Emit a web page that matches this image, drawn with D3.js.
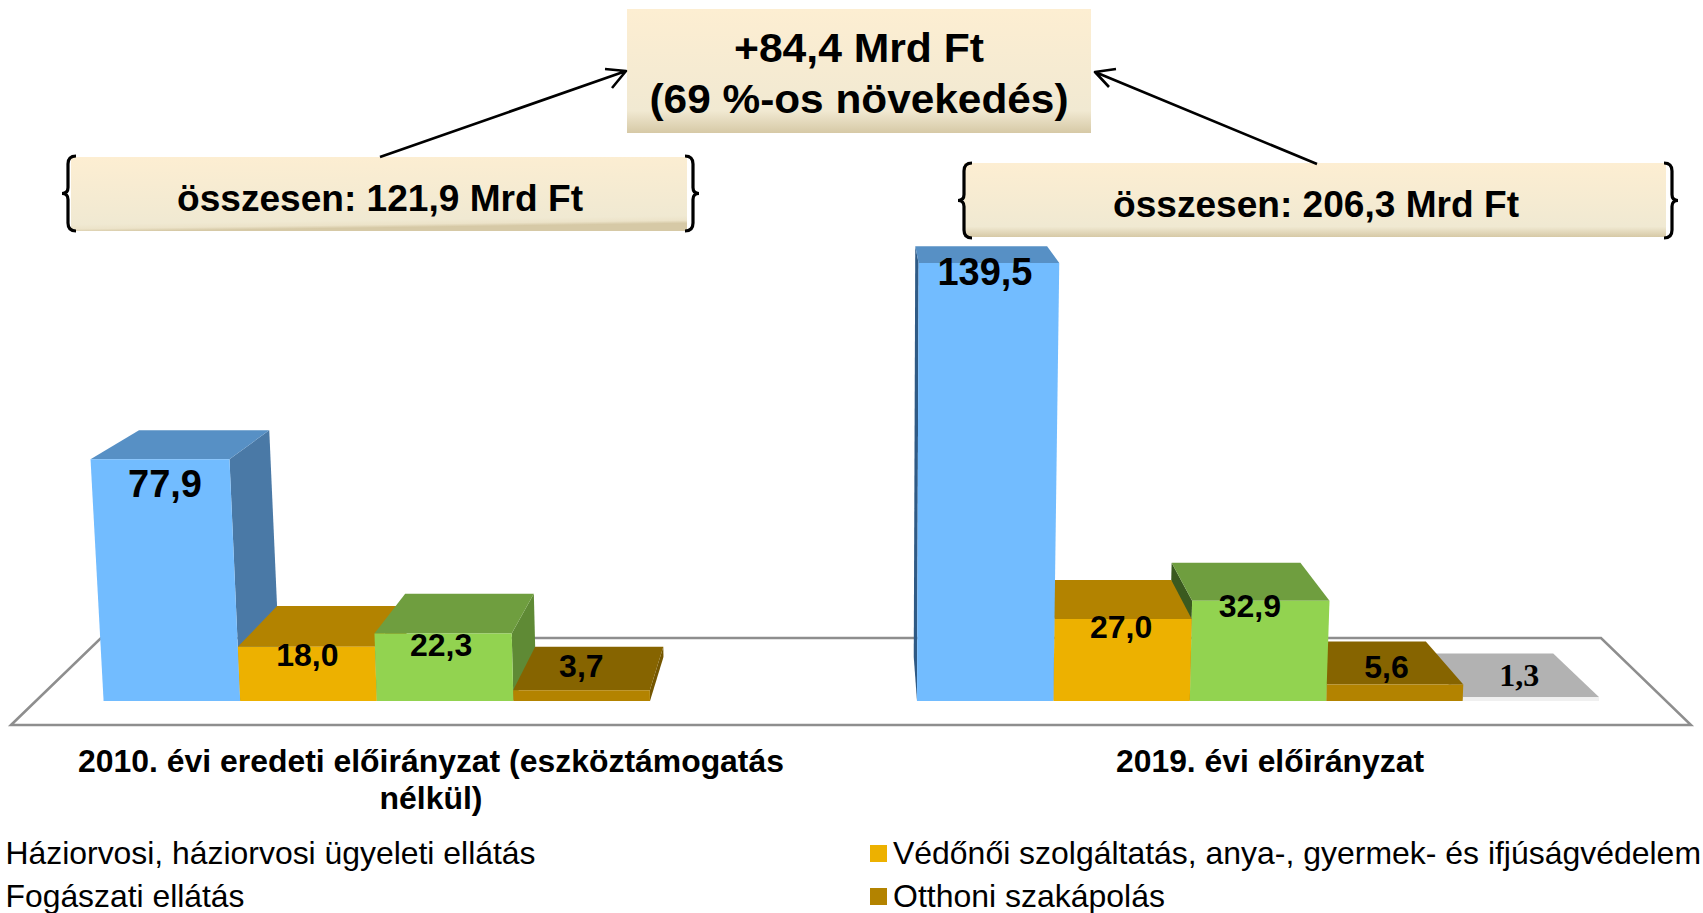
<!DOCTYPE html>
<html lang="hu">
<head>
<meta charset="utf-8">
<script src="https://cdn.jsdelivr.net/npm/d3@7/dist/d3.min.js"></script>
<style>
html,body{margin:0;padding:0;background:#fff;overflow:hidden}
svg{display:block}
text{font-family:"Liberation Sans",Arial,sans-serif;fill:#000}
</style>
</head>
<body>
<svg id="chart" width="1703" height="913"></svg>
<script>
// ---------- data ----------
const groups = ["2010", "2019"];
const groupLabels = [["2010. évi eredeti előirányzat (eszköztámogatás", "nélkül)"], ["2019. évi előirányzat"]];
const seriesNames = [
  "Háziorvosi, háziorvosi ügyeleti ellátás",
  "Védőnői szolgáltatás, anya-, gyermek- és ifjúságvédelem",
  "Fogászati ellátás",
  "Otthoni szakápolás",
  "Egyéb"
];
const values2010 = [77.9, 18.0, 22.3, 3.7, null];
const values2019 = [139.5, 27.0, 32.9, 5.6, 1.3];
const totalLabels = ["összesen: 121,9 Mrd Ft", "összesen: 206,3 Mrd Ft"];
const changeLabels = ["+84,4 Mrd Ft", "(69 %-os növekedés)"];
const legendSeries = [0, 1, 2, 3];

// ---------- styles ----------
const frontColors = ["#72bcff", "#edb100", "#92d350", "#b38300", "#f0f0f0"];
const topColors   = ["#5790c5", "#b38300", "#6f9e3f", "#866400", "#b2b2b2"];
const sideColorsL = ["#4a79a6", "#8a6500", "#5f8a35", "#745600", "#999999"];
const sideColorsR = ["#2f5a85", "#8a6500", "#3a5a1f", "#745600", "#999999"];

const svg = d3.select("#chart");
const defs = svg.append("defs");
const fmt = v => d3.format(".1f")(v).replace(".", ",");

// ---------- scales ----------
const FLOOR = 701, VANISH = 865;
const h = d3.scalePow().exponent(1.02).domain([0, 139.5]).range([0, 438]);
const xScales = [
  d3.scaleBand().domain(d3.range(5)).range([103.6, 786.6]),
  d3.scaleBand().domain(d3.range(5)).range([917, 1599])
];
const lean = (x, height) => x + 7.1e-5 * (x - VANISH) * height;
const depthX = x => 0.0626 * (VANISH - x);
const depthY = height => 44 - 0.062 * height;

// ---------- floor ----------
svg.append("polygon")
  .attr("points", [[11, 725], [101, 638], [1601, 638], [1691, 725]].join(" "))
  .attr("fill", "#fff").attr("stroke", "#8e8e8e").attr("stroke-width", 2.5)
  .attr("stroke-linejoin", "miter");

// ---------- bars ----------
function bar(g, xs, value, i) {
  const ht = h(value);
  const x0 = xs(i), x1 = x0 + xs.bandwidth();
  const tl = [lean(x0, ht), FLOOR - ht], tr = [lean(x1, ht), FLOOR - ht];
  const bl = [x0, FLOOR], br = [x1, FLOOR];
  const dy = depthY(ht);
  const back = p => [p[0] + depthX(p[0]), p[1] - dy];
  const backFloor = p => [p[0] + depthX(p[0]), p[1] - depthY(0)];
  const onLeft = (x0 + x1) / 2 < VANISH;
  const side = onLeft
    ? [tr, back(tr), backFloor(br), br]
    : [tl, back(tl), backFloor(bl), bl];
  g.append("polygon").attr("points", side.join(" "))
    .attr("fill", (onLeft ? sideColorsL : sideColorsR)[i]);
  g.append("polygon").attr("points", [tl, tr, back(tr), back(tl)].join(" ")).attr("fill", topColors[i]);
  g.append("polygon").attr("points", [tl, tr, br, bl].join(" ")).attr("fill", frontColors[i]);
  return { tl, tr, back };
}

[values2010, values2019].forEach((vals, gi) => {
  const xs = xScales[gi];
  const g = svg.append("g").attr("class", "group-" + groups[gi]);
  const idx = d3.range(vals.length).filter(i => vals[i] != null);
  const geo = {};
  const order = idx.slice().sort((a, b) =>
    Math.abs(xs(b) + xs.bandwidth() / 2 - VANISH) - Math.abs(xs(a) + xs.bandwidth() / 2 - VANISH));
  order.forEach(i => { geo[i] = bar(g, xs, vals[i], i); });
  // value labels: on the front face, or on the top face for the thin bars
  const nudge = gi === 0
    ? [[5, 1], [1, 1], [-2, 1], [-9, -3]]
    : [[-4, 1], [-2, 1], [-11, 1], [8, 3], [9, -1]];
  idx.forEach(i => {
    const v = vals[i], gm = geo[i];
    const big = i === 0;
    const thin = v < 10;
    const cx = (gm.tl[0] + gm.tr[0]) / 2;
    let lx = cx, ly;
    if (thin) {
      lx = (cx + gm.back([cx, 0])[0]) / 2;
      ly = gm.tl[1] - 21 + 11;
    } else {
      ly = gm.tl[1] + (big ? (gi === 0 ? 37 : 21) : (i === 1 ? 18 : (gi === 0 ? 21 : 15)));
    }
    g.append("text")
      .attr("x", lx + nudge[i][0]).attr("y", ly + nudge[i][1])
      .attr("text-anchor", "middle")
      .attr("font-weight", "bold")
      .attr("font-size", big ? 38 : 32)
      .style("font-family", i === 4 ? '"Liberation Serif",serif' : null)
      .text(fmt(v));
  });
});

// ---------- boxes ----------
function gradient(id, x2, y2, stops) {
  const gr = defs.append("linearGradient").attr("id", id)
    .attr("x1", 0).attr("y1", 0).attr("x2", x2).attr("y2", y2);
  stops.forEach(s => gr.append("stop").attr("offset", s[0]).attr("stop-color", s[1]));
}
gradient("gTop", 0, 1, [[0, "#fdeed2"], [0.82, "#f1e9d2"], [1, "#d6c9a6"]]);
gradient("gL", 0.12, 1, [[0, "#fdeed2"], [0.9, "#f0e9d2"], [0.96, "#ece3c9"], [1, "#d6c9a6"]]);
gradient("gR", 0, 1, [[0, "#fdeed2"], [0.86, "#f0e9d2"], [1, "#d6c9a6"]]);

const boxes = [
  { x: 627, y: 9, w: 464, h: 124, fill: "gTop" },
  { x: 71, y: 157, w: 616, h: 74, fill: "gL" },
  { x: 964, y: 163, w: 702, h: 74, fill: "gR" }
];
svg.selectAll("rect.box").data(boxes).join("rect").attr("class", "box")
  .attr("x", d => d.x).attr("y", d => d.y).attr("width", d => d.w).attr("height", d => d.h)
  .attr("fill", d => `url(#${d.fill})`);

// ---------- braces ----------
function brace(x, y0, y1, dir) {
  const m = (y0 + y1) / 2, s = dir;
  return `M${x + 8 * s},${y0} Q${x},${y0} ${x},${y0 + 8} L${x},${m - 6} Q${x},${m} ${x - 6 * s},${m}`
       + ` Q${x},${m} ${x},${m + 6} L${x},${y1 - 8} Q${x},${y1} ${x + 8 * s},${y1}`;
}
[[68, 156, 231, 1], [693, 156, 231, -1], [964, 163, 238, 1], [1672, 163, 238, -1]].forEach(b => {
  svg.append("path").attr("d", brace(...b)).attr("fill", "none")
    .attr("stroke", "#000").attr("stroke-width", 3.2);
});

// ---------- arrows ----------
function arrow(x0, y0, x1, y1, b1, b2) {
  svg.append("path")
    .attr("d", `M${x0},${y0} L${x1},${y1} M${b1[0]},${b1[1]} L${x1},${y1} L${b2[0]},${b2[1]}`)
    .attr("fill", "none").attr("stroke", "#000").attr("stroke-width", 2.6).attr("stroke-linejoin", "round");
}
arrow(380, 157, 626, 71, [605, 69], [612, 88]);
arrow(1317, 164, 1095, 72, [1116, 69], [1109, 87]);

// ---------- texts ----------
function label(str, x, y, size, weight, len, anchor) {
  svg.append("text").attr("x", x).attr("y", y)
    .attr("text-anchor", anchor || "middle").attr("font-size", size).attr("font-weight", weight)
    .attr("textLength", len).attr("lengthAdjust", "spacingAndGlyphs").text(str);
}
label(changeLabels[0], 859, 62, 41, "bold", 250);
label(changeLabels[1], 859, 113, 41, "bold", 419);
label(totalLabels[0], 380, 211, 37, "bold", 406);
label(totalLabels[1], 1316, 217, 37, "bold", 406);
label(groupLabels[0][0], 431, 772, 32, "bold", 706);
label(groupLabels[0][1], 431, 809, 32, "bold", 103);
label(groupLabels[1][0], 1270, 772, 32, "bold", 308);

// ---------- legend ----------
const legendPos = [[5.5, 864, 530], [893, 864, 808], [5.5, 907, 239], [893, 907, 272]];
legendSeries.forEach((s, k) => {
  const p = legendPos[k];
  label(seriesNames[s], p[0], p[1], 32, "normal", p[2], "start");
  if (p[0] > 100) {
    svg.append("rect").attr("x", p[0] - 23).attr("y", p[1] - 19)
      .attr("width", 17).attr("height", 17).attr("fill", frontColors[s]);
  }
});
</script>
</body>
</html>
